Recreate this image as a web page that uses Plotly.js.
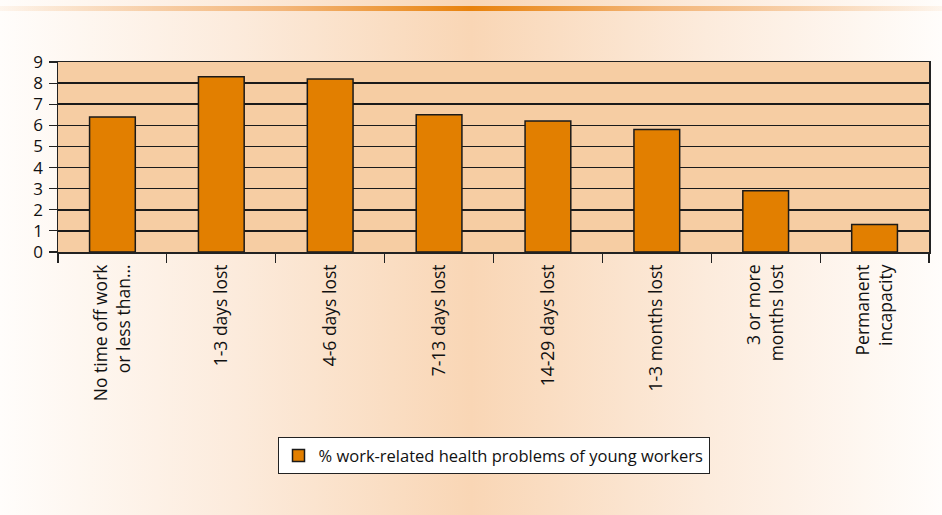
<!DOCTYPE html>
<html>
<head>
<meta charset="utf-8">
<script src="https://cdn.plot.ly/plotly-3.0.1.min.js"></script>
<style>
  html, body { margin: 0; padding: 0; width: 942px; height: 515px; overflow: hidden; }
  #bg {
    position: absolute; left: 0; top: 0; width: 942px; height: 515px;
    background: linear-gradient(to right, #fffdfb 0%, #fcebdc 25%, #f9d6b5 50%, #fcebdc 75%, #fffdfb 100%);
  }
  #bar {
    position: absolute; left: 0; top: 6px; width: 942px; height: 5px;
    background: linear-gradient(to right, rgba(248,214,180,0.2) 0%, #f3b67a 30%, #e8820c 50%, #f3b67a 70%, rgba(248,214,180,0.2) 100%);
  }
  #chart { position: absolute; left: 0; top: 0; width: 942px; height: 515px; }
</style>
</head>
<body>
<div id="bg"></div>
<div id="bar"></div>
<div id="chart"></div>
<script>
const categories = [
  "No time off work<br>or less than\u2026",
  "1-3 days lost",
  "4-6 days lost",
  "7-13 days lost",
  "14-29 days lost",
  "1-3 months lost",
  "3 or more<br>months lost",
  "Permanent<br>incapacity"
];
const values = [6.4, 8.3, 8.2, 6.5, 6.2, 5.8, 2.9, 1.3];
const seriesName = "% work-related health problems of young workers";
const yTicks = [0, 1, 2, 3, 4, 5, 6, 7, 8, 9];

const trace = {
  type: "bar",
  x: categories,
  y: values,
  name: seriesName,
  marker: { color: "#e27f00", line: { color: "#1a1a1a", width: 1.5 } },
  showlegend: true,
  hoverinfo: "none"
};

const layout = {
  width: 942, height: 515,
  margin: { l: 58, r: 13, t: 62, b: 263, pad: 0 },
  paper_bgcolor: "rgba(0,0,0,0)",
  plot_bgcolor: "#f6cda3",
  font: { family: "Open Sans, sans-serif", size: 16, color: "#111" },
  bargap: 0.58,
  showlegend: true,
  xaxis: {
    type: "category",
    tickson: "boundaries",
    ticks: "outside", ticklen: 9, tickwidth: 1.2, tickcolor: "#222",
    tickangle: -90,
    ticklabelstandoff: 4,
    showline: true, linecolor: "#222", linewidth: 1.5, mirror: true,
    showgrid: false,
    tickfont: { size: 17.5, color: "#111" },
    automargin: false
  },
  yaxis: {
    range: [0, 9],
    tickvals: yTicks,
    ticks: "outside", ticklen: 8, tickwidth: 1.2, tickcolor: "#222",
    ticklabelstandoff: 2,
    showline: true, linecolor: "#222", linewidth: 1.5, mirror: true,
    showgrid: true, gridcolor: "#1a1a1a", gridwidth: 1.5,
    zeroline: false,
    tickfont: { size: 17, color: "#111" },
    automargin: false
  },
  legend: {
    orientation: "h",
    x: 0.5, xanchor: "center",
    y: -0.975, yanchor: "top",
    bgcolor: "#ffffff", bordercolor: "#222", borderwidth: 1,
    font: { size: 16.5, color: "#111" }
  }
};

Plotly.newPlot("chart", [trace], layout, { displayModeBar: false, staticPlot: true });
</script>
</body>
</html>
